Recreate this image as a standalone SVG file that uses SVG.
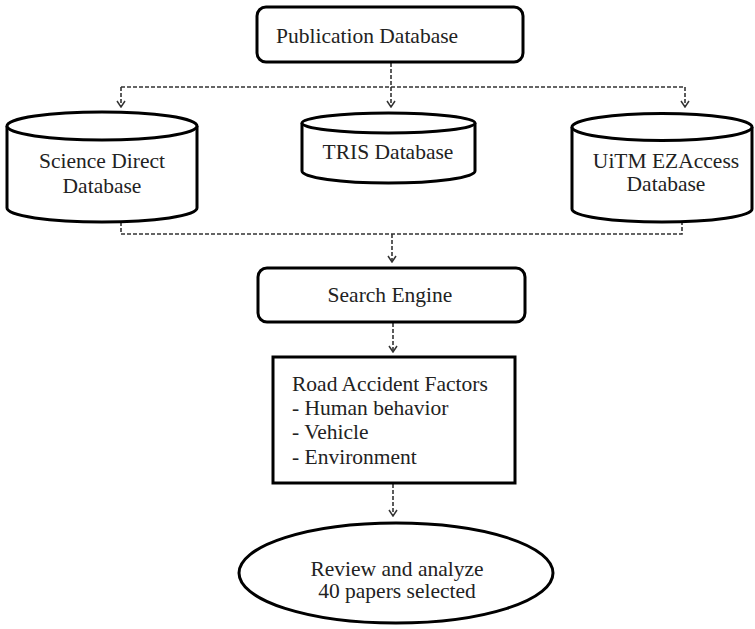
<svg xmlns="http://www.w3.org/2000/svg" width="755" height="629" viewBox="0 0 755 629">
<style>
.shape{fill:#fff;stroke:#000;stroke-width:3}
.t{font-family:"Liberation Serif","Times New Roman",serif;font-size:21.5px;fill:#222}
.c{text-anchor:middle}
.conn{fill:none;stroke:#333;stroke-width:1.6;stroke-dasharray:4 2}
</style>
<defs>
<marker id="ah" viewBox="-1 -5 8 10" refX="6" refY="0" markerWidth="8" markerHeight="10" markerUnits="userSpaceOnUse" orient="auto">
<path d="M0,-4 L6,0 L0,4" fill="none" stroke="#333" stroke-width="1.5"/>
</marker>
</defs>
<rect width="755" height="629" fill="#fff"/>
<g id="connectors">
<path class="conn" d="M391,63 V107" marker-end="url(#ah)"/>
<path class="conn" d="M121,87 H685"/>
<path class="conn" d="M121,87 V107" marker-end="url(#ah)"/>
<path class="conn" d="M685,87 V107" marker-end="url(#ah)"/>
<path class="conn" d="M121,222 V234 H682 V222"/>
<path class="conn" d="M392,234 V262" marker-end="url(#ah)"/>
<path class="conn" d="M393,323 V352" marker-end="url(#ah)"/>
<path class="conn" d="M393,484 V516" marker-end="url(#ah)"/>
</g>
<g id="publication">
<rect class="shape" x="257" y="7" width="266" height="55" rx="9"/>
<text class="t" x="276" y="43">Publication Database</text>
</g>
<g id="sciencedirect">
<path class="shape" d="M7,126 V208 A95,14 0 0 0 197,208 V126"/>
<ellipse class="shape" cx="102" cy="126" rx="95" ry="14"/>
<text class="t c" x="102" y="168">Science Direct</text>
<text class="t c" x="102" y="193">Database</text>
</g>
<g id="tris">
<path class="shape" d="M302,123 V171 A86.5,12 0 0 0 475,171 V123"/>
<ellipse class="shape" cx="388.5" cy="123" rx="86.5" ry="10"/>
<text class="t c" x="388" y="159">TRIS Database</text>
</g>
<g id="uitm">
<path class="shape" d="M572,127 V209 A90,13 0 0 0 752,209 V127"/>
<ellipse class="shape" cx="662" cy="127" rx="90" ry="13.5"/>
<text class="t c" x="666" y="168">UiTM EZAccess</text>
<text class="t c" x="666" y="191">Database</text>
</g>
<g id="search">
<rect class="shape" x="258" y="268" width="267" height="54" rx="9"/>
<text class="t c" x="390" y="302">Search Engine</text>
</g>
<g id="factors">
<rect class="shape" x="273" y="357" width="242" height="126" stroke-width="3.5"/>
<text class="t" x="292" y="391">Road Accident Factors</text>
<text class="t" x="292" y="415">- Human behavior</text>
<text class="t" x="292" y="439">- Vehicle</text>
<text class="t" x="292" y="464">- Environment</text>
</g>
<g id="review">
<ellipse class="shape" cx="396" cy="573" rx="157" ry="50"/>
<text class="t c" x="397" y="576">Review and analyze</text>
<text class="t c" x="397" y="598">40 papers selected</text>
</g>
</svg>
